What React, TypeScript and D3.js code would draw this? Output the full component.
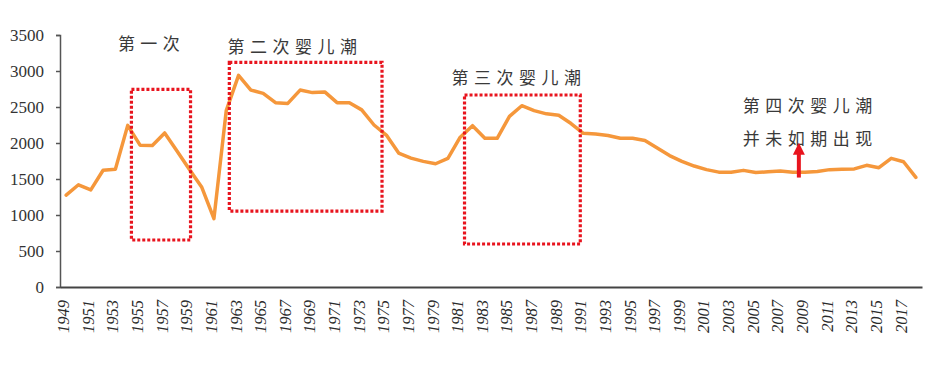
import React, { useEffect, useRef } from 'react';
import * as d3 from 'd3';

// 中国出生人口（万人）
const years: number[] = d3.range(1949, 2019);
const births: number[] = [
  1275, 1420, 1349, 1622, 1637, 2245, 1970, 1965, 2140, 1890,
  1635, 1390, 950, 2450, 2940, 2735, 2690, 2560, 2550, 2735,
  2700, 2710, 2560, 2560, 2460, 2250, 2110, 1860, 1790, 1745,
  1712, 1787, 2080, 2240, 2065, 2065, 2370, 2518, 2450, 2405,
  2385, 2270, 2134, 2125, 2105, 2065, 2065, 2035, 1930, 1825,
  1745, 1680, 1630, 1595, 1595, 1620, 1590, 1600, 1610, 1595,
  1595, 1605, 1630, 1635, 1640, 1690, 1657, 1787, 1740, 1523,
];
const yTicks: number[] = [0, 500, 1000, 1500, 2000, 2500, 3000, 3500];
const xTickYears: number[] = years.filter(y => y % 2 === 1);

// 婴儿潮框：起止年份（小数）与数值上下限
const boxes = [
  { x0: 1954.3, x1: 1959.1, v0: 653, v1: 2745 },
  { x0: 1962.25, x1: 1974.65, v0: 1055, v1: 3120 },
  { x0: 1981.35, x1: 1990.75, v0: 597, v1: 2667 },
];

// 标注文字：左端年份与数值位置
const notes = [
  { text: '第一次', year: 1953.2, value: 3389 },
  { text: '第二次婴儿潮', year: 1962.1, value: 3361 },
  { text: '第三次婴儿潮', year: 1980.3, value: 2917 },
  { text: '第四次婴儿潮', year: 2003.95, value: 2528 },
  { text: '并未如期出现', year: 2003.95, value: 2083 },
];
const arrow = { year: 2008.5, from: 1520, to: 2005 };

const W = 931;
const H = 365;

const App: React.FC = () => {
  const svgRef = useRef<SVGSVGElement>(null);

  useEffect(() => {
    const svg = d3.select(svgRef.current);
    svg.selectAll('*').remove();

    const left = 60, right = 922, top = 35, bottom = 287;

    const x = d3.scaleLinear().domain([1948.5, 2018.5]).range([left, right]);
    const y = d3.scaleLinear().domain([0, 3500]).range([bottom, top]);

    // Y axis
    const yAxis = svg.append('g')
      .attr('transform', `translate(${left},0)`)
      .call(d3.axisLeft(y).tickValues(yTicks).tickSize(4).tickPadding(12).tickFormat(d3.format('d')));
    yAxis.select('.domain').attr('stroke', '#555').attr('stroke-width', 1.5);
    yAxis.selectAll('line').attr('stroke', '#555').attr('stroke-width', 1.5);
    yAxis.selectAll('text')
      .style('font-family', '"Liberation Serif", "Times New Roman", serif')
      .style('font-size', '17px')
      .attr('fill', '#333');

    // X axis
    const xAxis = svg.append('g')
      .attr('transform', `translate(0,${bottom})`)
      .call(d3.axisBottom(x).tickValues(xTickYears).tickSize(0).tickSizeOuter(0).tickFormat(d3.format('d')));
    xAxis.select('.domain').attr('stroke', '#444').attr('stroke-width', 2.2);
    xAxis.selectAll('text')
      .attr('transform', 'rotate(-90)')
      .attr('x', -13)
      .attr('y', 0)
      .attr('dy', '0.15em')
      .style('text-anchor', 'end')
      .style('font-family', '"Liberation Serif", "Times New Roman", serif')
      .style('font-style', 'italic')
      .style('font-size', '16.5px')
      .attr('fill', '#2a2a2a');

    // Line
    const line = d3.line<number>()
      .x((_, i) => x(years[i]))
      .y(d => y(d));
    svg.append('path')
      .datum(births)
      .attr('d', line)
      .attr('fill', 'none')
      .attr('stroke', '#F5973B')
      .attr('stroke-width', 3.5)
      .attr('stroke-linejoin', 'round')
      .attr('stroke-linecap', 'round');

    // Dotted boxes
    svg.selectAll('rect.box')
      .data(boxes)
      .enter()
      .append('rect')
      .attr('class', 'box')
      .attr('x', d => x(d.x0))
      .attr('y', d => y(d.v1))
      .attr('width', d => x(d.x1) - x(d.x0))
      .attr('height', d => y(d.v0) - y(d.v1))
      .attr('fill', 'none')
      .attr('stroke', '#E8141E')
      .attr('stroke-width', 3.2)
      .attr('stroke-dasharray', '3,2');

    // Notes
    svg.selectAll('text.note')
      .data(notes)
      .enter()
      .append('text')
      .attr('class', 'note')
      .attr('x', d => x(d.year))
      .attr('y', d => y(d.value))
      .attr('dominant-baseline', 'central')
      .style('font-family', '"Noto Sans CJK SC", sans-serif')
      .style('font-size', '17px')
      .style('letter-spacing', '5.5px')
      .attr('fill', '#3a3a3a')
      .text(d => d.text);

    // Arrow
    const ax = x(arrow.year);
    const y0 = y(arrow.from);
    const y1 = y(arrow.to);
    svg.append('line')
      .attr('x1', ax).attr('x2', ax)
      .attr('y1', y0).attr('y2', y1 + 10)
      .attr('stroke', '#E8141E')
      .attr('stroke-width', 4);
    svg.append('path')
      .attr('d', `M${ax - 6},${y1 + 12} L${ax},${y1} L${ax + 6},${y1 + 12} Z`)
      .attr('fill', '#E8141E');
  }, []);

  return (
    <svg
      ref={svgRef}
      width={W}
      height={H}
      style={{ position: 'absolute', left: 0, top: 0, background: '#fff' }}
    />
  );
};

export default App;
